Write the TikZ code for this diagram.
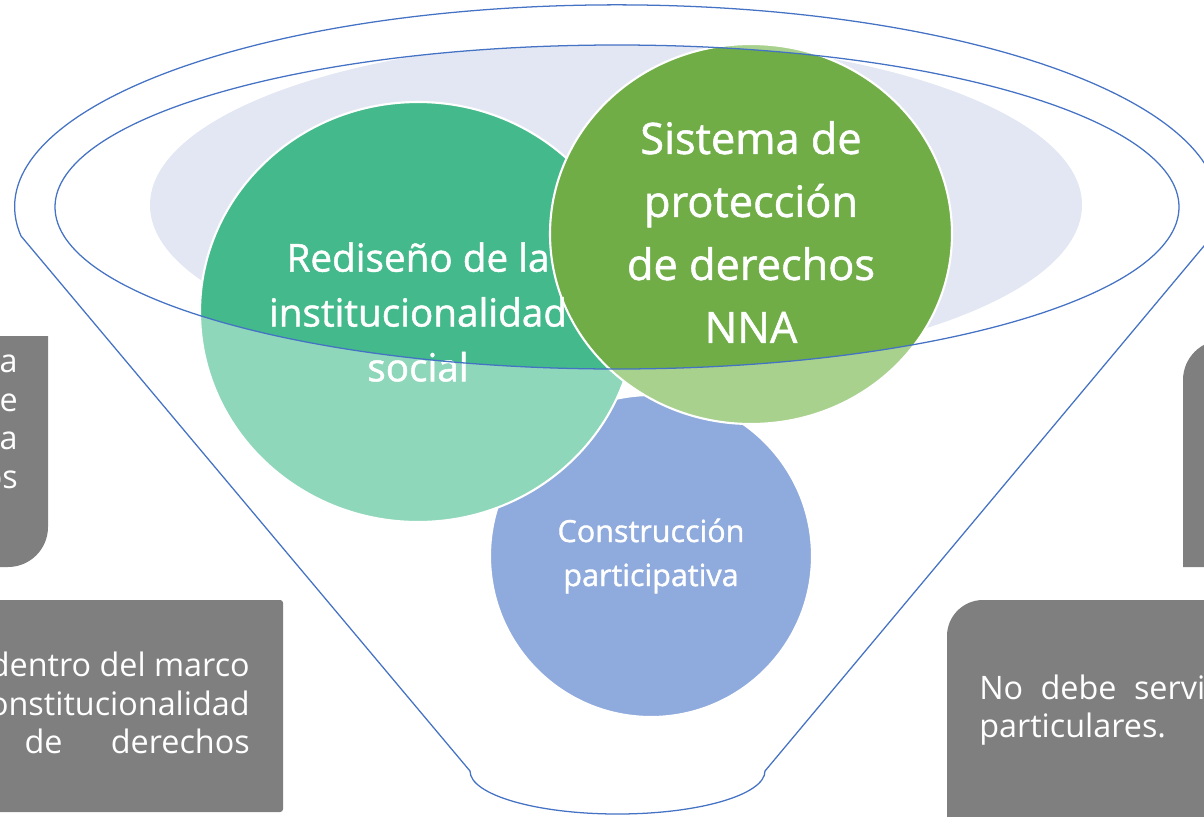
\documentclass[tikz,border=0pt]{standalone}
\usepackage{fontspec}
\setmainfont{Open Sans}
\newfontfamily\heavier[FakeBold=1.2]{Open Sans}
\usepackage{tikz}

\definecolor{funnelblue}{HTML}{4472C4}
\definecolor{palefill}{HTML}{E2E7F3}
\definecolor{tealdark}{HTML}{44BA8C}
\definecolor{teallight}{HTML}{8FD7BA}
\definecolor{greendark}{HTML}{70AD47}
\definecolor{greenlight}{HTML}{A9D18E}
\definecolor{bluefill}{HTML}{8FAADC}
\definecolor{boxgray}{HTML}{7F7F7F}

\begin{document}
\begin{tikzpicture}[x=0.025cm,y=-0.025cm,
  funnel/.style={draw=funnelblue,line width=0.9pt},
  bubble/.style={draw=white,line width=1.5pt},
  bubbletext/.style={text=white,align=center,inner sep=0pt},
  boxtext/.style={text=white,inner sep=0pt,font=\fontsize{23}{27.4}\selectfont}]
  \useasboundingbox (0,0) rectangle (1204,816);
  \clip (0,0) rectangle (1204,816);

  \begin{scope}
    \clip (617,207) ellipse [x radius=562,y radius=162];
    \fill[palefill] (616,205) ellipse [x radius=466,y radius=165];
  \end{scope}

  \fill[bluefill] (651,556) circle [radius=161];
  \draw[bubble] (651,556) circle [radius=161];

  \fill[teallight] (418,312) ellipse [x radius=218,y radius=210];
  \begin{scope}
    \clip (617,207) ellipse [x radius=562,y radius=162];
    \fill[tealdark] (418,312) ellipse [x radius=218,y radius=210];
  \end{scope}
  \draw[bubble] (418,312) ellipse [x radius=218,y radius=210];

  \fill[greenlight] (751,234) ellipse [x radius=201,y radius=190];
  \begin{scope}
    \clip (617,207) ellipse [x radius=562,y radius=162];
    \fill[greendark] (751,234) ellipse [x radius=201,y radius=190];
  \end{scope}
  \draw[bubble] (751,234) ellipse [x radius=201,y radius=190];

  \node[bubbletext,font=\heavier\fontsize{21.7}{31.3}\selectfont] (construccion) at (651,556) {Construcción\\participativa};
  \node[bubbletext,font=\heavier\fontsize{27.5}{39}\selectfont] (rediseno) at (418,312) {Rediseño de la\\institucionalidad\\social};
  \node[bubbletext,font=\heavier\fontsize{30.8}{44.8}\selectfont] (sistema) at (751,232) {Sistema de\\protección\\de derechos\\NNA};

  \draw[funnel] (21,236) arc[start angle=171.7,end angle=368.3,x radius=602,y radius=202]
    -- (765,771) arc[start angle=0,end angle=180,x radius=147.5,y radius=43] -- cycle;
  \draw[funnel] (617,207) ellipse [x radius=562,y radius=162];

  \fill[boxgray] (-60,336) -- (48,336) -- (48,527) arc[start angle=0,end angle=90,radius=40] -- (-60,567) -- cycle;
  \fill[boxgray,rounded corners=2pt] (-60,600) rectangle (283,812);
  \fill[boxgray] (1183,567) -- (1183,380) arc[start angle=180,end angle=270,radius=40] -- (1260,340) -- (1260,567) -- cycle;
  \fill[boxgray] (947,840) -- (947,636) arc[start angle=180,end angle=270,radius=36] -- (1260,600) -- (1260,840) -- cycle;

  \node[boxtext,align=right,anchor=east] (razones) at (18,422) {a\\e\\a\\os};
  \node[boxtext,align=right,anchor=east] (marco) at (250,703) {dentro del marco\\constitucionalidad\\\makebox[5.625cm]{de\hfill derechos}};
  \node[boxtext,align=left,anchor=west] (intereses) at (979,710) {No\hspace{0.54em}debe\hspace{0.54em}servir\\particulares.};
\end{tikzpicture}
\end{document}
